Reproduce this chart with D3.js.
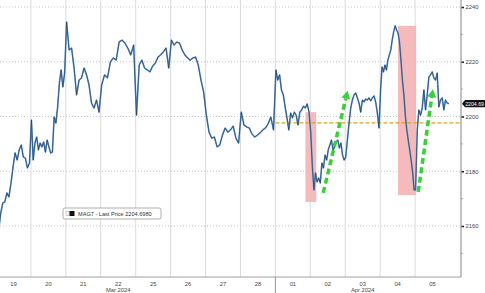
<!DOCTYPE html>
<html>
<head>
<meta charset="utf-8">
<script src="https://cdn.jsdelivr.net/npm/d3@7"></script>
<style>
  html, body { margin: 0; padding: 0; background: #fff; }
  svg { display: block; font-family: "Liberation Sans", Arial, sans-serif; }
</style>
</head>
<body>
<div id="chart"></div>
<script>
// MAG7 intraday price

const days = ["19", "20", "21", "22", "25", "26", "27", "28", "01", "02", "03", "04", "05"];

const dayPrices = [
  [2155.0, 2158.5, 2164.7, 2168.4, 2168.8, 2172.1, 2170.6, 2175.7, 2181.6, 2186.7, 2184.1, 2187.8, 2189.6, 2185.2, 2184.8, 2181.2, 2183.0],
  [2198.7, 2184.1, 2190.3, 2192.5, 2187.8, 2190.3, 2188.9, 2190.7, 2187.0, 2191.4, 2188.9, 2186.7, 2187.0, 2199.8, 2197.6, 2203.5, 2212.2, 2217.0, 2210.8, 2215.9],
  [2234.5, 2224.3, 2225.0, 2217.7, 2207.9, 2213.3, 2214.1, 2217.7, 2215.2, 2211.5, 2204.9, 2203.1, 2206.0, 2201.6],
  [2211.5, 2215.2, 2214.1, 2219.9, 2221.4, 2220.6, 2227.2, 2227.9, 2226.8, 2225.0, 2222.5, 2226.1],
  [2200.5, 2218.8, 2220.6, 2217.7, 2217.0, 2216.3, 2218.4, 2219.5, 2221.7, 2222.5, 2223.6, 2225.0, 2217.7],
  [2227.9, 2226.1, 2227.2, 2226.8, 2224.3, 2222.5, 2221.4, 2220.6, 2221.4, 2221.7, 2218.8, 2213.3, 2208.9],
  [2200.5, 2194.3, 2192.1, 2192.5, 2188.9, 2189.6, 2193.2, 2195.8, 2194.3, 2195.1, 2196.5, 2192.1, 2190.3],
  [2201.6, 2196.9, 2196.2, 2195.8, 2193.6, 2192.5, 2193.2, 2194.0, 2195.1, 2195.8, 2197.3, 2199.8, 2195.1],
  [2217.0, 2213.3, 2215.2, 2209.7, 2207.9, 2203.5, 2199.5, 2195.1, 2201.3, 2199.5, 2201.6, 2200.5, 2196.9, 2201.6, 2202.4, 2203.8, 2203.1, 2204.6, 2201.6],
  [2194.0, 2181.6, 2173.2, 2179.4, 2176.1, 2177.5, 2175.7, 2183.0, 2181.2, 2185.9, 2184.1, 2187.8, 2189.6, 2191.4, 2187.8, 2188.9, 2190.7, 2191.4, 2188.5, 2190.3, 2185.9, 2184.1],
  [2185.2, 2191.4, 2197.6, 2203.1, 2206.0, 2207.9, 2208.6, 2206.8, 2204.9, 2201.6, 2206.0, 2205.3, 2206.4, 2206.0, 2206.8, 2205.7, 2206.8, 2207.5, 2205.3, 2201.3, 2195.8],
  [2209.7, 2218.1, 2216.3, 2218.8, 2217.0, 2220.6, 2222.5, 2224.3, 2228.0, 2230.9, 2233.1, 2231.6, 2230.5, 2227.2, 2220.6, 2213.3, 2207.9, 2200.5, 2195.1, 2191.4, 2187.8, 2184.1, 2179.7, 2173.2],
  [2173.2, 2195.1, 2202.4, 2200.5, 2203.1, 2209.7, 2202.4, 2207.9, 2214.4, 2215.2, 2216.3, 2214.1, 2213.3, 2215.9, 2203.5, 2206.0, 2206.8, 2202.4, 2206.0, 2204.9, 2204.698]
];

const yTicks = [2160, 2180, 2200, 2220, 2240];
const yMinorTicks = [2150, 2170, 2190, 2210, 2230];
const months = [{label: "Mar 2024", day: "22"}, {label: "Apr 2024", day: "03"}];
const lastPrice = 2204.698;
const refLevel = 2197.7;
const refStartDay = "01";

// shaded boxes: [day, fraction of day] to [day, fraction], price from/to
const boxes = [
  {d0: "01", f0: 0.86, d1: "02", f1: 0.17, lo: 2168.8, hi: 2201.6},
  {d0: "04", f0: 0.51, d1: "05", f1: 0.03, lo: 2171.3, hi: 2233.1}
];
// green rebound arrows
const arrows = [
  {d0: "02", f0: 0.37, p0: 2172.1, d1: "03", f1: 0.07, p1: 2209.4},
  {d0: "05", f0: 0.09, p0: 2172.4, d1: "05", f1: 0.51, p1: 2210.0}
];

function drawChart() {
  const W = 485, H = 293;
  const plotRight = 461, plotBottom = 277;

  const svg = d3.select("#chart").append("svg")
      .attr("width", W)
      .attr("height", H);

  const x = d3.scaleBand().domain(days).range([-4, 450]).padding(0);
  const y = d3.scaleLinear().domain([2160, 2240]).range([226, 7]);
  const xAt = (day, f) => x(day) + f * x.bandwidth();

  // flatten the series
  const series = [];
  days.forEach((day, i) => {
    const vals = dayPrices[i];
    vals.forEach((v, j) => {
      series.push({x: xAt(day, (j + 0.3) / vals.length), v: v});
    });
  });

  svg.append("defs").append("clipPath").attr("id", "plot-clip")
    .append("rect").attr("x", 0).attr("y", 0)
    .attr("width", plotRight).attr("height", plotBottom);

  const plot = svg.append("g").attr("clip-path", "url(#plot-clip)");

  // horizontal dotted grid
  plot.selectAll(".hgrid")
    .data(yTicks)
    .enter().append("line")
    .attr("x1", 0).attr("x2", plotRight)
    .attr("y1", d => y(d)).attr("y2", d => y(d))
    .attr("stroke", "#b8b8b8")
    .attr("stroke-width", 0.8)
    .attr("stroke-dasharray", "1,2");

  // vertical day separators
  plot.selectAll(".vgrid")
    .data(days.slice(1))
    .enter().append("line")
    .attr("x1", d => x(d)).attr("x2", d => x(d))
    .attr("y1", 0).attr("y2", plotBottom)
    .attr("stroke", "#d2d2d2")
    .attr("stroke-width", 0.8);

  // shaded boxes
  plot.selectAll(".box")
    .data(boxes)
    .enter().append("rect")
    .attr("x", d => xAt(d.d0, d.f0))
    .attr("width", d => xAt(d.d1, d.f1) - xAt(d.d0, d.f0))
    .attr("y", d => y(d.hi))
    .attr("height", d => y(d.lo) - y(d.hi))
    .attr("fill", "#f4b3b4")
    .attr("opacity", 0.9);

  // orange reference line
  plot.append("line")
    .attr("x1", x(refStartDay)).attr("x2", plotRight)
    .attr("y1", y(refLevel)).attr("y2", y(refLevel))
    .attr("stroke", "#e3a21a")
    .attr("stroke-width", 1.2)
    .attr("stroke-dasharray", "4,2");

  // price line
  const line = d3.line().x(d => d.x).y(d => y(d.v));
  plot.append("path")
    .datum(series)
    .attr("d", line)
    .attr("fill", "none")
    .attr("stroke", "#5a93cf")
    .attr("stroke-width", 1.6)
    .attr("stroke-linejoin", "round");
  plot.append("path")
    .datum(series)
    .attr("d", line)
    .attr("fill", "none")
    .attr("stroke", "#1c2533")
    .attr("stroke-width", 0.6)
    .attr("opacity", 0.85);

  // green arrows
  arrows.forEach(a => {
    const x0 = xAt(a.d0, a.f0), y0 = y(a.p0);
    const x1 = xAt(a.d1, a.f1), y1 = y(a.p1);
    const ang = Math.atan2(y1 - y0, x1 - x0);
    const len = 8, half = 4.5;
    const bx = x1 - len * Math.cos(ang), by = y1 - len * Math.sin(ang);
    plot.append("line")
      .attr("x1", x0).attr("y1", y0)
      .attr("x2", bx).attr("y2", by)
      .attr("stroke", "#3ccf3c")
      .attr("stroke-width", 3.6)
      .attr("stroke-dasharray", "6,3.5");
    const px = -Math.sin(ang), py = Math.cos(ang);
    plot.append("path")
      .attr("d", `M${x1},${y1}L${bx + px * half},${by + py * half}L${bx - px * half},${by - py * half}Z`)
      .attr("fill", "#3ccf3c");
  });

  // legend
  const legend = svg.append("g").attr("transform", "translate(63,208)");
  legend.append("rect")
    .attr("width", 98).attr("height", 11).attr("rx", 2)
    .attr("fill", "#fff").attr("stroke", "#9a9a9a").attr("stroke-width", 0.8);
  legend.append("rect")
    .attr("x", 3).attr("y", 3.5).attr("width", 3).attr("height", 4)
    .attr("fill", "none").attr("stroke", "#999").attr("stroke-width", 0.5);
  legend.append("rect")
    .attr("x", 6.5).attr("y", 3).attr("width", 5).attr("height", 5)
    .attr("fill", "#111");
  legend.append("text")
    .attr("x", 15).attr("y", 7.8)
    .style("font-size", "5.6px")
    .attr("fill", "#333")
    .text("MAG7 - Last Price " + d3.format(".4f")(lastPrice));

  // right axis
  const yAxis = svg.append("g")
    .attr("transform", `translate(${plotRight},0)`)
    .call(d3.axisRight(y).tickValues(yTicks).tickSize(3).tickFormat(d3.format("d")));
  yAxis.select(".domain").remove();
  yAxis.selectAll(".tick line").attr("stroke", "#222").attr("stroke-width", 1.6);
  yAxis.selectAll(".tick text")
    .attr("x", 4.5)
    .style("font-size", "5.8px")
    .style("font-family", "'Liberation Sans', Arial, sans-serif")
    .attr("fill", "#444");

  svg.selectAll(".minor")
    .data(yMinorTicks)
    .enter().append("line")
    .attr("x1", plotRight).attr("x2", plotRight + 2)
    .attr("y1", d => y(d)).attr("y2", d => y(d))
    .attr("stroke", "#999").attr("stroke-width", 0.8);

  svg.append("line")
    .attr("x1", plotRight).attr("x2", plotRight)
    .attr("y1", 0).attr("y2", plotBottom)
    .attr("stroke", "#a0a0a0").attr("stroke-width", 1.3);

  // last price tag (value shown truncated to 2 decimals)
  const tagY = y(lastPrice);
  const tag = svg.append("g").attr("transform", `translate(${plotRight + 1},${tagY})`);
  tag.append("path")
    .attr("d", "M0,0L3,-3.6L23,-3.6L23,3.6L3,3.6Z")
    .attr("fill", "#111");
  tag.append("text")
    .attr("x", 3.2).attr("y", 1.9)
    .style("font-size", "5.2px")
    .attr("fill", "#fff")
    .text((Math.floor(lastPrice * 100) / 100).toFixed(2));

  // bottom axis
  const xAxis = svg.append("g")
    .attr("transform", `translate(0,${plotBottom})`)
    .call(d3.axisBottom(x).tickSize(0).tickPadding(5));
  xAxis.select(".domain").remove();
  xAxis.selectAll(".tick text")
    .style("font-size", "5.8px")
    .style("font-family", "'Liberation Sans', Arial, sans-serif")
    .attr("fill", "#444");

  svg.append("line")
    .attr("x1", 0).attr("x2", plotRight)
    .attr("y1", plotBottom).attr("y2", plotBottom)
    .attr("stroke", "#a0a0a0").attr("stroke-width", 1);

  // month separator
  svg.append("line")
    .attr("x1", x(refStartDay)).attr("x2", x(refStartDay))
    .attr("y1", plotBottom).attr("y2", H)
    .attr("stroke", "#777").attr("stroke-width", 0.8);

  svg.selectAll(".month")
    .data(months)
    .enter().append("text")
    .attr("x", d => x(d.day) + x.bandwidth() / 2)
    .attr("y", 292)
    .attr("text-anchor", "middle")
    .style("font-size", "5.8px")
    .attr("fill", "#444")
    .text(d => d.label);
}

drawChart();
</script>
</body>
</html>
